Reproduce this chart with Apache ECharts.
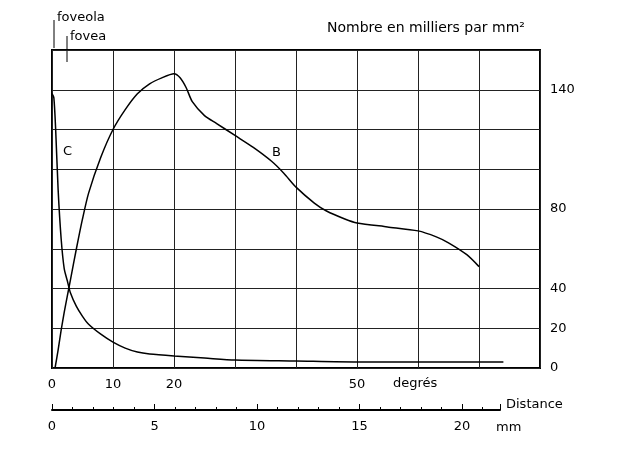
<!DOCTYPE html>
<html><head><meta charset="utf-8">
<script src="https://cdn.jsdelivr.net/npm/echarts@6/dist/echarts.min.js"></script>
<style>body{margin:0;background:#fff}#c{width:640px;height:453px}</style></head>
<body><div id="c"></div>
<script>
const rodsDeg = [0.5,1,1.5,2,2.5,3,4,5,6,8,10,12,14,16,18,20,21,22,23,25,27,30,33,36,38,40,43,45,48,50,55,60,63,65,68,70];
const rodsVal = [0,9,19,28,36,44,60,75,88,106,120,130,138,143,146,148,146,141,134,127,123,117,111,104,98,91,83,79,75,73,71,69,66,63,57,51];
const conesDeg = [0,0.3,0.6,1,1.5,2,2.5,3,4,5,6,8,10,12,14,16,20,25,30,40,50,60,70,74];
const conesVal = [138,136,120,90,65,50,44,38,31,26,22,17,13,10,8,7,6,5,4,3.5,3,3,3,3];
const degLabels = [0,10,20,50];
const yLabels = [0,20,40,80,140];
const mmTicks = [0,5,10,15,20];
const F = 'DejaVu Sans';
const T = '13px "DejaVu Sans"';
const chart = echarts.init(document.getElementById('c'));
chart.setOption({
  animation:false,
  grid:[{left:52,right:100,top:50,bottom:85,show:true,borderColor:'#000',borderWidth:2},
        {left:52,right:140,top:410,height:0}],
  xAxis:[{type:'value',min:0,max:80,interval:10,gridIndex:0,
     axisLine:{show:false},axisTick:{show:false},
     splitLine:{lineStyle:{color:'#222',width:1}},
     axisLabel:{fontFamily:F,fontSize:13,color:'#000',margin:10,
       formatter:v=>degLabels.includes(v)?String(v):''}},
    {type:'value',min:0,max:21.85,interval:5,gridIndex:1,position:'bottom',
     axisLine:{show:true,onZero:false,lineStyle:{color:'#000',width:2}},
     axisTick:{show:true,length:-6,lineStyle:{color:'#000'}},
     minorTick:{show:true,length:-3,splitNumber:5,lineStyle:{color:'#000'}},
     splitLine:{show:false},
     axisLabel:{fontFamily:F,fontSize:13,color:'#000',margin:10,
       formatter:v=>mmTicks.includes(v)?String(v):''}}],
  yAxis:[{type:'value',min:0,max:160,interval:20,position:'right',gridIndex:0,
     axisLine:{show:false},axisTick:{show:false},
     splitLine:{lineStyle:{color:'#222',width:1}},
     axisLabel:{fontFamily:F,fontSize:13,color:'#000',margin:10,
       formatter:v=>yLabels.includes(v)?String(v):''}},
    {type:'value',gridIndex:1,show:false}],
  graphic:[
    {type:'text',left:327,top:21,style:{text:'Nombre en milliers par mm²',font:'14px "DejaVu Sans"',fill:'#000'}},
    {type:'text',left:57,top:11,style:{text:'foveola',font:T,fill:'#000'}},
    {type:'text',left:70,top:30,style:{text:'fovea',font:T,fill:'#000'}},
    {type:'line',shape:{x1:54,y1:20,x2:54,y2:48},style:{stroke:'#000',lineWidth:1}},
    {type:'line',shape:{x1:67,y1:36,x2:67,y2:62},style:{stroke:'#000',lineWidth:1}},
    {type:'text',left:63,top:145,style:{text:'C',font:T,fill:'#000'}},
    {type:'text',left:272,top:146,style:{text:'B',font:T,fill:'#000'}},
    {type:'text',left:393,top:377,style:{text:'degrés',font:T,fill:'#000'}},
    {type:'text',left:506,top:398,style:{text:'Distance',font:T,fill:'#000'}},
    {type:'text',left:496,top:421,style:{text:'mm',font:T,fill:'#000'}}
  ],
  series:[
    {type:'line',xAxisIndex:0,yAxisIndex:0,smooth:0.25,symbol:'none',lineStyle:{color:'#000',width:1.5},
     data:rodsDeg.map((d,i)=>[d,rodsVal[i]])},
    {type:'line',xAxisIndex:0,yAxisIndex:0,smooth:0.25,symbol:'none',lineStyle:{color:'#000',width:1.5},
     data:conesDeg.map((d,i)=>[d,conesVal[i]])}
  ]
});
</script></body></html>
